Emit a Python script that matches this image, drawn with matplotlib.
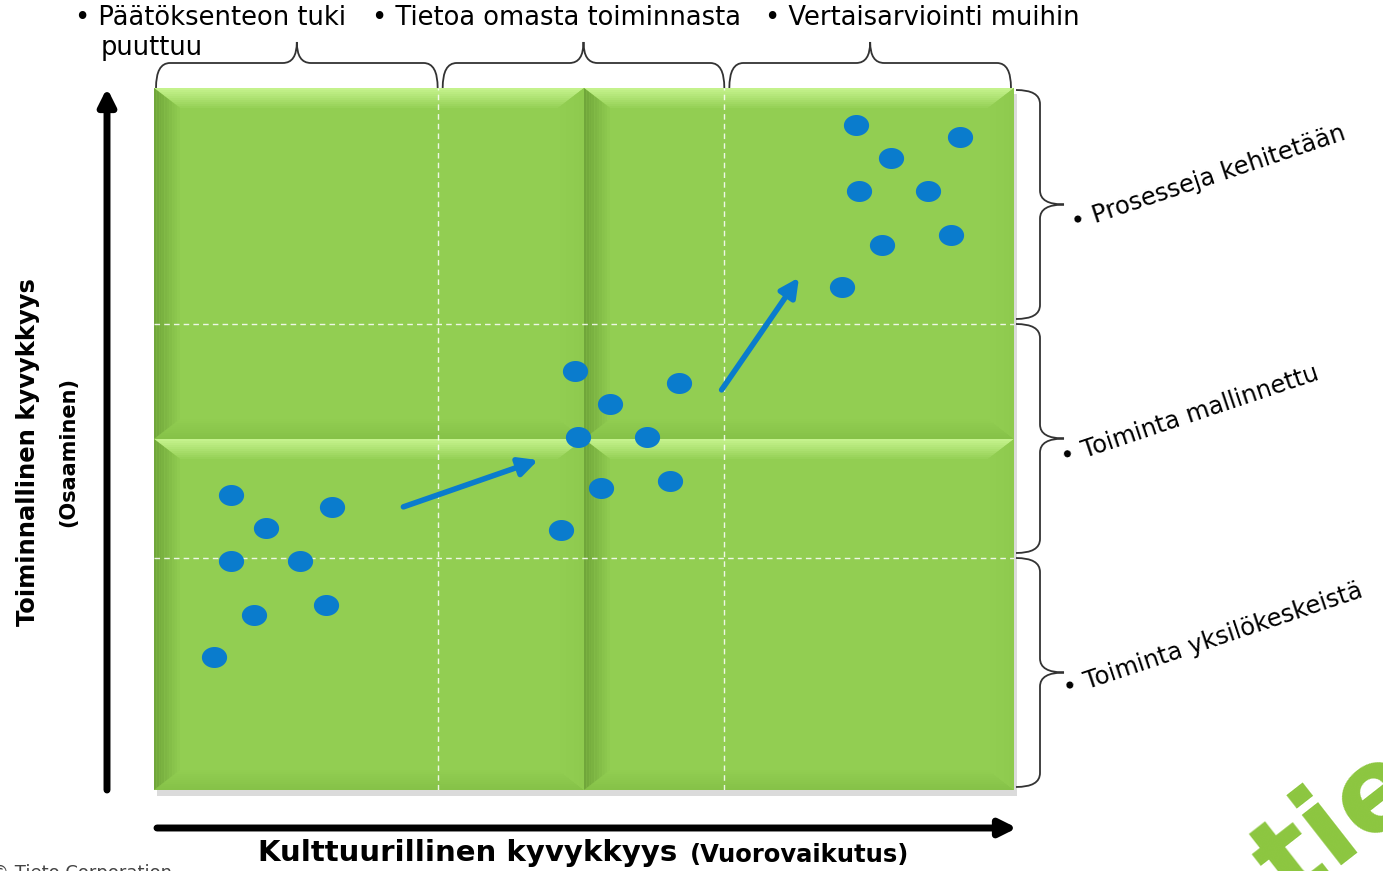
import numpy as np
import matplotlib.pyplot as plt
from matplotlib.path import Path
from matplotlib.patches import PathPatch, Polygon, Rectangle

plt.rcParams['font.family'] = ['DejaVu Sans']

# scores: x = cultural capability (0-3), y = operational capability (0-3)
low_x = [0.27, 0.39, 0.62, 0.27, 0.51, 0.35, 0.60, 0.21]
low_y = [1.26, 1.12, 1.21, 0.98, 0.98, 0.75, 0.79, 0.57]
mid_x = [1.47, 1.59, 1.83, 1.48, 1.72, 1.56, 1.80, 1.42]
mid_y = [1.79, 1.65, 1.74, 1.51, 1.51, 1.29, 1.32, 1.11]
high_x = [2.45, 2.81, 2.57, 2.46, 2.70, 2.54, 2.78, 2.40]
high_y = [2.84, 2.79, 2.70, 2.56, 2.56, 2.33, 2.37, 2.15]

# arrows between clusters (start, end)
arrow_from = [(0.87, 1.21), (1.98, 1.71)]
arrow_to = [(1.34, 1.41), (2.25, 2.19)]

col_labels = ['Päätöksenteon tuki', 'Tietoa omasta toiminnasta', 'Vertaisarviointi muihin']
row_labels = ['Prosesseja kehitetään', 'Toiminta mallinnettu', 'Toiminta yksilökeskeistä']
xlabel = 'Kulttuurillinen kyvykkyys'
xlabel_sub = '(Vuorovaikutus)'
ylabel = 'Toiminnallinen kyvykkyys'
ylabel_sub = '(Osaaminen)'

W, H = 1383, 871
L, B, PW, PH = 154, 81, 860, 702   # panel in pixels
TOP = H - B - PH

fig = plt.figure(figsize=(W / 100, H / 100), dpi=100)
over = fig.add_axes([0, 0, 1, 1])
over.set_xlim(0, W)
over.set_ylim(H, 0)
over.axis('off')

ax = fig.add_axes([L / W, B / H, PW / W, PH / H])
ax.set_xlim(0, 3)
ax.set_ylim(0, 3)
ax.axis('off')

# shadow under the panel
over.add_patch(Rectangle((L + 3, TOP + 6), PW, PH, color='#9a9a9a', alpha=0.35, lw=0))

base = np.array([146, 206, 82]) / 255
edge_cols = {
    'top': np.array([196, 242, 140]) / 255,
    'left': np.array([112, 166, 58]) / 255,
    'bottom': np.array([134, 194, 72]) / 255,
    'right': np.array([142, 202, 78]) / 255,
}
bx = 26 / PW * 3
by = 20 / PH * 3
nstrip = 10


def quadrant(x0, y0, x1, y1):
    ax.add_patch(Rectangle((x0, y0), x1 - x0, y1 - y0, color=base, lw=0, zorder=1))
    for k in range(nstrip):
        t0, t1 = k / nstrip, (k + 1) / nstrip
        pts = {
            'top': [(x0 + t0 * bx, y1 - t0 * by), (x1 - t0 * bx, y1 - t0 * by),
                    (x1 - t1 * bx, y1 - t1 * by), (x0 + t1 * bx, y1 - t1 * by)],
            'bottom': [(x0 + t0 * bx, y0 + t0 * by), (x1 - t0 * bx, y0 + t0 * by),
                       (x1 - t1 * bx, y0 + t1 * by), (x0 + t1 * bx, y0 + t1 * by)],
            'left': [(x0 + t0 * bx, y0 + t0 * by), (x0 + t0 * bx, y1 - t0 * by),
                     (x0 + t1 * bx, y1 - t1 * by), (x0 + t1 * bx, y0 + t1 * by)],
            'right': [(x1 - t0 * bx, y0 + t0 * by), (x1 - t0 * bx, y1 - t0 * by),
                      (x1 - t1 * bx, y1 - t1 * by), (x1 - t1 * bx, y0 + t1 * by)],
        }
        for side, p in pts.items():
            col = edge_cols[side] * (1 - t0) + base * t0
            ax.add_patch(Polygon(p, closed=True, color=col, lw=0, zorder=2))


for qx in [0, 1.5]:
    for qy in [0, 1.5]:
        quadrant(qx, qy, qx + 1.5, qy + 1.5)

for v in [0.99, 1.99]:
    ax.axvline(v, color='white', ls=(0, (4, 3)), lw=1, alpha=0.85, zorder=3)
    ax.axhline(v, color='white', ls=(0, (4, 3)), lw=1, alpha=0.85, zorder=3)

# ellipse marker for the dots
th = np.linspace(0, 2 * np.pi, 60)
ell = Path(np.c_[1.2 * np.cos(th), np.sin(th)], closed=True)
blue = '#0a7ccd'
for xs, ys in [(low_x, low_y), (mid_x, mid_y), (high_x, high_y)]:
    ax.scatter(xs, ys, marker=ell, s=330, color=blue, lw=0, zorder=5)

for p0, p1 in zip(arrow_from, arrow_to):
    ax.annotate('', xy=p1, xytext=p0,
                arrowprops=dict(arrowstyle='-|>', lw=4, color=blue,
                                mutation_scale=28, shrinkA=0, shrinkB=0), zorder=6)


def brace_h(x0, x1, yb, ym, yt, r=14):
    xc = (x0 + x1) / 2
    verts = [(x0, yb), (x0, ym), (x0 + r, ym), (xc - r, ym), (xc, ym), (xc, yt),
             (xc, ym), (xc + r, ym), (x1 - r, ym), (x1, ym), (x1, yb)]
    codes = [Path.MOVETO, Path.CURVE3, Path.CURVE3, Path.LINETO, Path.CURVE3, Path.CURVE3,
             Path.CURVE3, Path.CURVE3, Path.LINETO, Path.CURVE3, Path.CURVE3]
    over.add_patch(PathPatch(Path(verts, codes), fc='none', ec='#333333', lw=1.3))


def brace_v(y0, y1, xb, xm, xt, r=14):
    yc = (y0 + y1) / 2
    verts = [(xb, y0), (xm, y0), (xm, y0 + r), (xm, yc - r), (xm, yc), (xt, yc),
             (xm, yc), (xm, yc + r), (xm, y1 - r), (xm, y1), (xb, y1)]
    codes = [Path.MOVETO, Path.CURVE3, Path.CURVE3, Path.LINETO, Path.CURVE3, Path.CURVE3,
             Path.CURVE3, Path.CURVE3, Path.LINETO, Path.CURVE3, Path.CURVE3]
    over.add_patch(PathPatch(Path(verts, codes), fc='none', ec='#333333', lw=1.3))


for i in range(3):
    brace_h(L + PW * i / 3 + 2, L + PW * (i + 1) / 3 - 3, TOP, TOP - 25, TOP - 46)
    brace_v(TOP + 2 + PH * i / 3, TOP + PH * (i + 1) / 3 - 3, L + PW + 2, L + PW + 26, L + PW + 50)

# top labels
over.text(75, 18, '• ' + col_labels[0], fontsize=18.5, va='center', ha='left')
over.text(101, 48, 'puuttuu', fontsize=18.5, va='center', ha='left')
over.text(372, 18, '• ' + col_labels[1], fontsize=18.5, va='center', ha='left')
over.text(765, 18, '• ' + col_labels[2], fontsize=18.5, va='center', ha='left')

# right labels (rotated)
row_anchor = [(1072, 224), (1062, 458), (1064, 690)]
for (x, y), lab in zip(row_anchor, row_labels):
    over.text(x, y, '• ' + lab, fontsize=17.5, rotation=18.5, rotation_mode='anchor',
              ha='left', va='center')

# axis arrows
over.annotate('', xy=(107, 88), xytext=(107, 790),
              arrowprops=dict(arrowstyle='-|>', lw=5, color='black', mutation_scale=25,
                              shrinkA=0, shrinkB=0))
over.annotate('', xy=(1017, 828), xytext=(157, 828),
              arrowprops=dict(arrowstyle='-|>', lw=5, color='black', mutation_scale=25,
                              shrinkA=0, shrinkB=0))

over.text(28, 452, ylabel, rotation=90, fontsize=17.5, fontweight='bold', ha='center', va='center')
over.text(68, 452, ylabel_sub, rotation=90, fontsize=15, fontweight='bold', ha='center', va='center')
over.text(258, 853, xlabel, fontsize=21, fontweight='bold', ha='left', va='center')
over.text(690, 855, xlabel_sub, fontsize=17.5, fontweight='bold', ha='left', va='center')

over.text(172, 873, '© Tieto Corporation', fontsize=13, color='#444444', ha='right', va='center')
over.text(1290, 905, 'tieto', fontsize=85, fontweight='bold', color='#8cc63f', rotation=38,
          rotation_mode='anchor', ha='left', va='baseline')

fig.savefig('out.png', dpi=100)
